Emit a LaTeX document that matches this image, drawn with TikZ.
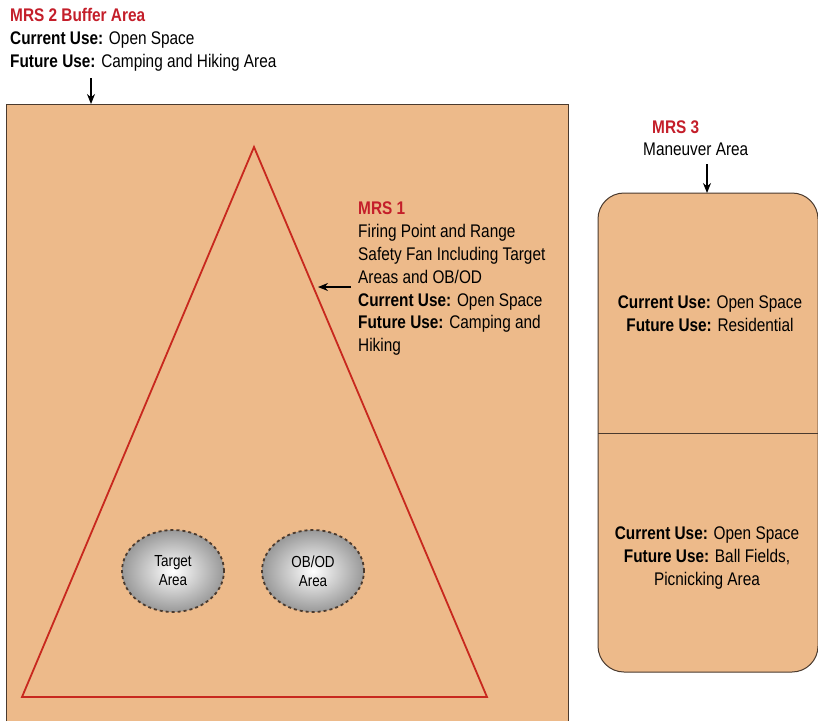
\documentclass[tikz,border=0pt]{standalone}
\usepackage{fontspec}
\setmainfont{Liberation Sans}[FakeStretch=0.84]
\usetikzlibrary{shapes.geometric,arrows.meta}
\definecolor{tan}{HTML}{EDBA8A}
\definecolor{mrsred}{HTML}{C41E2A}
\definecolor{trired}{HTML}{C8281E}
\definecolor{edge}{HTML}{4A3A2E}
\tikzset{
  lbl/.style={inner sep=0pt, align=left, font=\fontsize{18.3}{22.8}\selectfont, text=black},
  ctr/.style={inner sep=0pt, align=center, font=\fontsize{18.3}{22.8}\selectfont, text=black},
  arr/.style={-{Stealth[length=10pt,width=8pt]}, line width=1.4pt, black},
  blob/.style={ellipse, minimum width=102pt, minimum height=82pt, draw=edge, dashed, line width=1.8pt,
     inner color=white, outer color=gray!80, align=center, font=\fontsize{16}{19}\selectfont, inner sep=0pt},
}
\newcommand{\hd}[1]{\textcolor{mrsred}{\textbf{#1}}}
\begin{document}
\begin{tikzpicture}[x=1pt,y=-1pt]
\useasboundingbox[fill=white] (0,0) rectangle (818,721);
% left area
\fill[tan] (6,104) rectangle (568,721);
\draw[edge, line width=1pt] (6,721) -- (6,104) -- (568,104) -- (568,721);
% triangle
\coordinate (apex) at (254,147);
\coordinate (bl) at (22,697);
\coordinate (br) at (487,697);
\draw[trired, line width=1.8pt, line join=miter] (apex) -- (bl) -- (br) -- cycle;
% right area
\draw[edge, fill=tan, line width=1pt, rounded corners=26pt] (598,193) rectangle (818,672);
\coordinate (dl) at (598,433);
\coordinate (dr) at (818,433);
\draw[edge, line width=1pt] (dl) -- (dr);
% MRS 2
\node[lbl, anchor=north west] (mrs2) at (10,8) {\hd{MRS 2 Buffer Area}\\\textbf{Current Use:} Open Space\\\textbf{Future Use:} Camping and Hiking Area};
\coordinate (m2s) at (91,78);
\coordinate (m2e) at (91,104);
\draw[arr] (m2s) -- (m2e);
% MRS 1
\node[lbl, anchor=north west] (mrs1) at (358,202) {\hd{MRS 1}\\Firing Point and Range\\Safety Fan Including Target\\Areas and OB/OD\\\textbf{Current Use:} Open Space\\\textbf{Future Use:} Camping and\\Hiking};
\coordinate (m1s) at (351,287);
\coordinate (m1e) at (318,287);
\draw[arr] (m1s) -- (m1e);
% MRS 3
\node[lbl, anchor=north west] (mrs3) at (652,121) {\hd{MRS 3}};
\node[lbl, anchor=north west] (man) at (643,143) {Maneuver Area};
\coordinate (m3s) at (707,164);
\coordinate (m3e) at (707,193);
\draw[arr] (m3s) -- (m3e);
% boxes text
\node[ctr] (up) at (710,314) {\textbf{Current Use:} Open Space\\\textbf{Future Use:} Residential};
\node[ctr] (low) at (707,558) {\textbf{Current Use:} Open Space\\\textbf{Future Use:} Ball Fields,\\Picnicking Area};
% ellipses
\node[blob] (target) at (173,571) {Target\\Area};
\node[blob] (obod) at (313,571) {OB/OD\\Area};
\end{tikzpicture}
\end{document}
